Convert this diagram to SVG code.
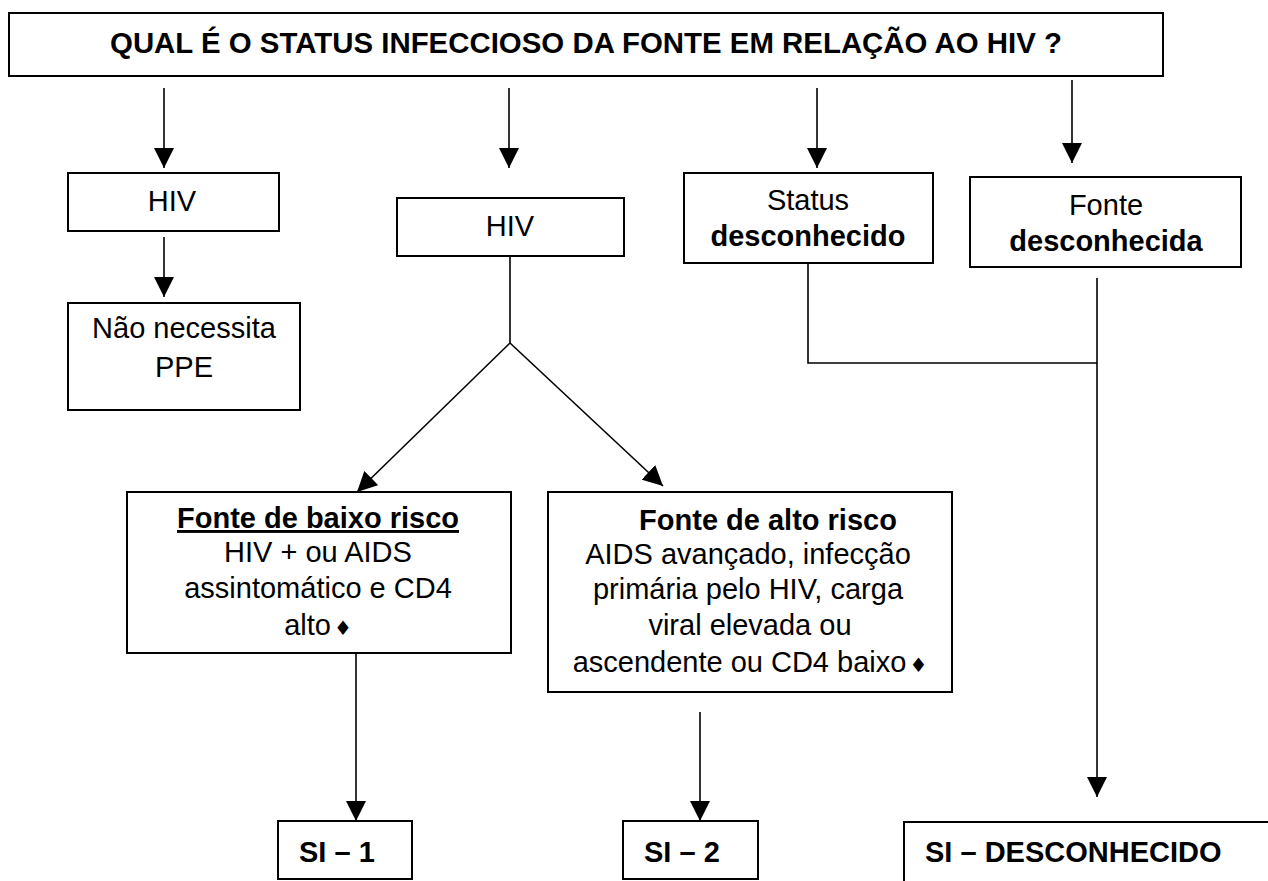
<svg xmlns="http://www.w3.org/2000/svg" width="1268" height="881" viewBox="0 0 1268 881">
<style>
.box{fill:#fff;stroke:#000;stroke-width:2}
.ln{stroke:#000;stroke-width:1.6;fill:none}
.t{font-family:"Liberation Sans",Arial,sans-serif;font-size:29px;fill:#000;text-anchor:middle}
.s{text-anchor:start}
.b{font-weight:bold}
.dm{font-family:"DejaVu Sans",sans-serif;font-size:20px}
</style>
<defs>
<marker id="ah" viewBox="0 0 20 20" refX="20" refY="10" markerWidth="20" markerHeight="20" markerUnits="userSpaceOnUse" orient="auto">
<path d="M0,0 L20,10 L0,20 z" fill="#000"/>
</marker>
</defs>
<rect width="1268" height="881" fill="#fff"/>
<g id="connectors">
<line class="ln" x1="164" y1="88" x2="164" y2="168" marker-end="url(#ah)"/>
<line class="ln" x1="509" y1="88" x2="509" y2="168" marker-end="url(#ah)"/>
<line class="ln" x1="817" y1="88" x2="817" y2="168" marker-end="url(#ah)"/>
<line class="ln" x1="1072" y1="80" x2="1072" y2="163" marker-end="url(#ah)"/>
<line class="ln" x1="164" y1="237" x2="164" y2="297" marker-end="url(#ah)"/>
<polyline class="ln" points="510,256 510,343"/>
<line class="ln" x1="510" y1="343" x2="357" y2="492" marker-end="url(#ah)"/>
<line class="ln" x1="510" y1="343" x2="663" y2="486" marker-end="url(#ah)"/>
<polyline class="ln" points="808,263 808,363 1097,363"/>
<line class="ln" x1="1097" y1="278" x2="1097" y2="797" marker-end="url(#ah)"/>
<line class="ln" x1="356" y1="653" x2="356" y2="821" marker-end="url(#ah)"/>
<line class="ln" x1="700" y1="712" x2="700" y2="821" marker-end="url(#ah)"/>
</g>
<g id="n-title">
<rect class="box" x="9" y="13" width="1154" height="63"/>
<text class="t b" x="586" y="53" font-size="28" textLength="952" lengthAdjust="spacingAndGlyphs">QUAL É O STATUS INFECCIOSO DA FONTE EM RELAÇÃO AO HIV ?</text>
</g>
<g id="n-hiv1">
<rect class="box" x="68" y="173" width="211" height="58"/>
<text class="t" x="172" y="211">HIV</text>
</g>
<g id="n-hiv2">
<rect class="box" x="397" y="198" width="227" height="58"/>
<text class="t" x="510" y="236">HIV</text>
</g>
<g id="n-status">
<rect class="box" x="684" y="173" width="249" height="90"/>
<text class="t" x="808" y="210">Status</text>
<text class="t b" x="808" y="246">desconhecido</text>
</g>
<g id="n-fonte">
<rect class="box" x="970" y="177" width="271" height="90"/>
<text class="t" x="1106" y="215">Fonte</text>
<text class="t b" x="1106" y="251">desconhecida</text>
</g>
<g id="n-nao">
<rect class="box" x="68" y="303" width="232" height="107"/>
<text class="t" x="184" y="338">Não necessita</text>
<text class="t" x="184" y="377">PPE</text>
</g>
<g id="n-baixo">
<rect class="box" x="127" y="492" width="384" height="161"/>
<text class="t b" x="318" y="528" text-decoration="underline">Fonte de baixo risco</text>
<text class="t" x="318" y="562">HIV + ou AIDS</text>
<text class="t" x="318" y="598">assintomático e CD4</text>
<text class="t" x="318" y="635">alto<tspan class="dm" dx="3">♦</tspan></text>
</g>
<g id="n-alto">
<rect class="box" x="548" y="492" width="404" height="200"/>
<text class="t b" x="768" y="530">Fonte de alto risco</text>
<text class="t" x="748" y="564">AIDS avançado, infecção</text>
<text class="t" x="748" y="599">primária pelo HIV, carga</text>
<text class="t" x="750" y="635">viral elevada ou</text>
<text class="t" x="750" y="672">ascendente ou CD4 baixo<tspan class="dm" dx="3">♦</tspan></text>
</g>
<g id="n-si1">
<rect class="box" x="278" y="821" width="134" height="58"/>
<text class="t b s" x="299" y="862">SI – 1</text>
</g>
<g id="n-si2">
<rect class="box" x="623" y="821" width="135" height="58"/>
<text class="t b s" x="644" y="862">SI – 2</text>
</g>
<g id="n-sid">
<rect class="box" x="904" y="822" width="400" height="100"/>
<text class="t b s" x="925" y="862">SI – DESCONHECIDO</text>
</g>
</svg>
